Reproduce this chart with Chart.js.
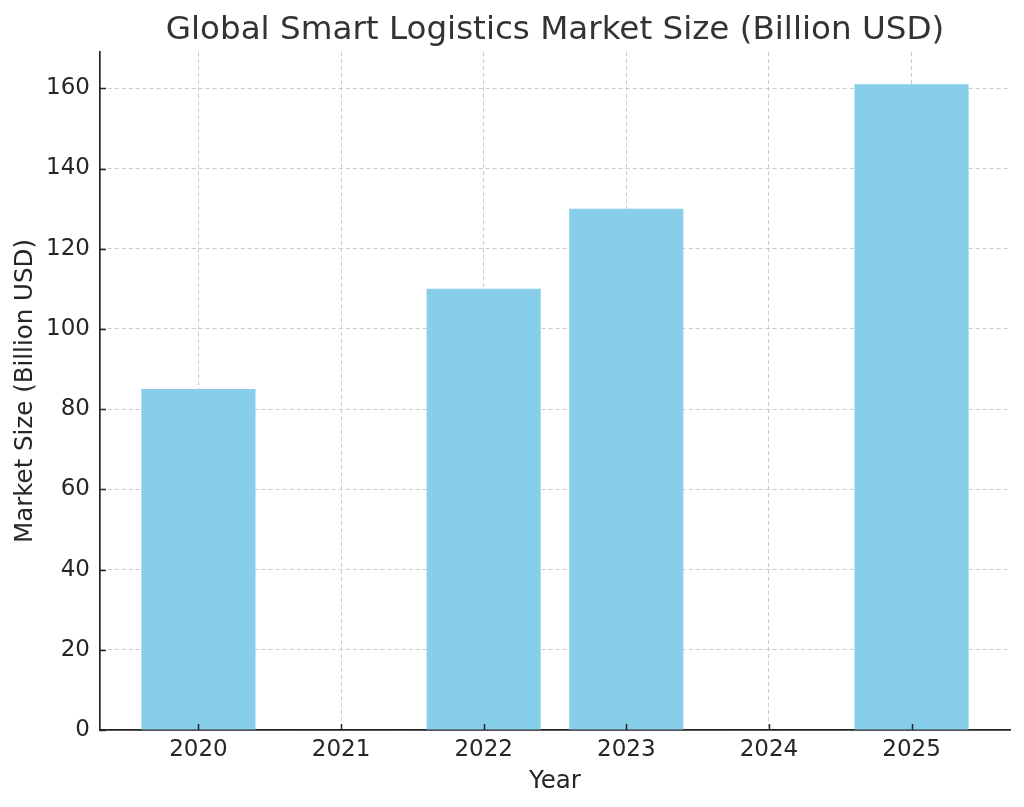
<!DOCTYPE html>
<html>
<head>
<meta charset="utf-8">
<script src="https://cdn.jsdelivr.net/npm/chart.js@4.4.1/dist/chart.umd.min.js"></script>
<style>
  html, body { margin: 0; padding: 0; background: #ffffff; }
  #wrap { width: 1024px; height: 807px; position: relative; }
  canvas { display: block; }
</style>
</head>
<body>
<div id="wrap"><canvas id="c" width="1024" height="807"></canvas></div>
<script>
// ---- data ----
const years = ["2020", "2021", "2022", "2023", "2024", "2025"];
const marketSize = [85, null, 110, 130, null, 161];
const yTicks = [0, 20, 40, 60, 80, 100, 120, 140, 160];

const chartTitle = "Global Smart Logistics Market Size (Billion USD)";
const xTitle = "Year";
const yTitle = "Market Size (Billion USD)";

const FONT = "'DejaVu Sans', sans-serif";
const TEXT = "#262626";
const GRID = "rgba(190,190,190,0.8)";

const points = years.map((y, i) => ({ x: i, y: marketSize[i] }));

// inward tick marks like matplotlib
const inwardTicks = {
  id: "inwardTicks",
  afterDraw(chart) {
    const ctx = chart.ctx;
    const xs = chart.scales.x, ys = chart.scales.y;
    const a = chart.chartArea;
    ctx.save();
    ctx.strokeStyle = "#262626";
    ctx.lineWidth = 1.5;
    ctx.beginPath();
    xs.ticks.forEach(t => {
      const px = Math.round(xs.getPixelForValue(t.value)) + 0.5;
      ctx.moveTo(px, a.bottom);
      ctx.lineTo(px, a.bottom - 6);
    });
    ys.ticks.forEach(t => {
      const py = Math.round(ys.getPixelForValue(t.value)) + 0.5;
      ctx.moveTo(a.left, py);
      ctx.lineTo(a.left + 6, py);
    });
    ctx.stroke();
    ctx.restore();
  }
};

new Chart(document.getElementById("c"), {
  type: "bar",
  data: {
    datasets: [{
      data: points,
      backgroundColor: "#87CEEB",
      borderWidth: 0,
      categoryPercentage: 1.0,
      barPercentage: 0.8
    }]
  },
  options: {
    responsive: false,
    animation: false,
    devicePixelRatio: 1,
    layout: { padding: { left: 0, right: 14, top: 0, bottom: 0 } },
    plugins: {
      legend: { display: false },
      tooltip: { enabled: false },
      title: {
        display: true,
        text: chartTitle,
        fullSize: false,
        color: "#333333",
        font: { family: FONT, size: 32.6, weight: "normal", lineHeight: 1.2 },
        padding: { top: 11, bottom: 1.9 }
      }
    },
    scales: {
      x: {
        type: "linear",
        min: -0.69,
        max: 5.69,
        offset: false,
        z: 1,
        afterBuildTicks(scale) { scale.ticks = years.map((_, i) => ({ value: i })); },
        afterFit(scale) { scale.height = 77; },
        ticks: {
          callback: (v) => years[v],
          color: TEXT,
          font: { family: FONT, size: 23 },
          padding: 6,
          maxRotation: 0,
          autoSkip: false
        },
        grid: {
          display: true,
          offset: false,
          drawTicks: false,
          color: GRID,
          lineWidth: 1
        },
        border: { display: true, color: "#262626", width: 1.7, dash: [4, 3] },
        title: {
          display: true,
          text: xTitle,
          color: TEXT,
          font: { family: FONT, size: 24.5 },
          padding: { top: 0, bottom: 11 }
        }
      },
      y: {
        type: "linear",
        min: 0,
        max: 169.05,
        z: 1,
        afterBuildTicks(scale) { scale.ticks = yTicks.map(v => ({ value: v })); },
        afterFit(scale) { scale.width = 100; },
        ticks: {
          color: TEXT,
          font: { family: FONT, size: 23 },
          padding: 10
        },
        grid: {
          display: true,
          drawTicks: false,
          color: GRID,
          lineWidth: 1
        },
        border: { display: true, color: "#262626", width: 1.7, dash: [4, 3] },
        title: {
          display: true,
          text: yTitle,
          color: TEXT,
          font: { family: FONT, size: 24.5 },
          padding: { top: 11, bottom: 0 }
        }
      }
    }
  },
  plugins: [inwardTicks]
});
</script>
</body>
</html>
